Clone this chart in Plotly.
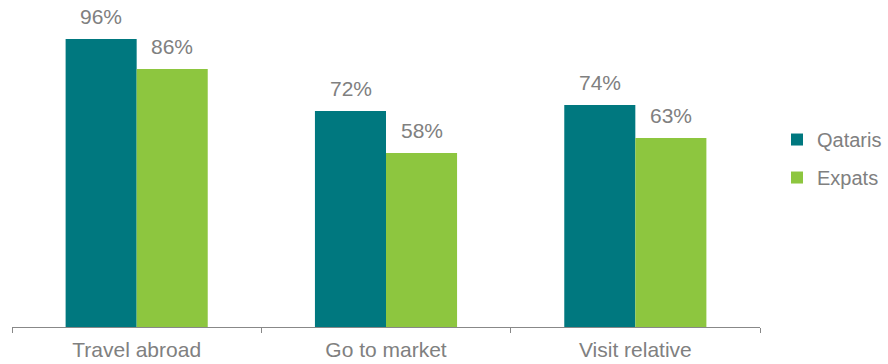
import plotly.graph_objects as go

categories = ["Travel abroad", "Go to market", "Visit relative"]
qataris = [96, 72, 74]
expats = [86, 58, 63]
series_names = ["Qataris", "Expats"]
colors = ["#00787F", "#8DC63F"]
gray = "#808080"
font_family = "Liberation Sans, Arial, sans-serif"

fig = go.Figure()
for i, (name, vals) in enumerate(zip(series_names, [qataris, expats])):
    fig.add_trace(go.Bar(
        x=categories, y=vals, name=name,
        marker=dict(color=colors[i], line=dict(width=0)),
        legendgroup=name,
    ))
    for c, v in zip(categories, vals):
        fig.add_annotation(
            x=c, y=v, text=f"{v}%", showarrow=False,
            xref="x", yref="y", yanchor="bottom",
            xshift=(-35.5 if i == 0 else 35.5), yshift=9,
            font=dict(size=21, color=gray, family=font_family),
        )

fig.update_layout(
    width=888, height=364,
    margin=dict(l=12, r=128, t=15, b=37, autoexpand=False),
    paper_bgcolor="white", plot_bgcolor="white",
    barmode="group", bargap=0.43, bargroupgap=0,
    font=dict(family=font_family, size=21, color=gray),
    showlegend=True,
    legend=dict(xref="container", x=777 / 888, y=0.54, xanchor="left", yanchor="middle",
                traceorder="grouped", tracegroupgap=9,
                font=dict(size=20, color=gray), itemwidth=30),
    xaxis=dict(showline=True, linecolor="#888888", linewidth=1,
               ticks="outside", tickson="boundaries", ticklen=5,
               tickcolor="#888888", showgrid=False, ticklabelstandoff=4,
               tickfont=dict(size=21, color=gray)),
    yaxis=dict(range=[0, 104], visible=False, showgrid=False),
)

fig.write_html("out.html")
